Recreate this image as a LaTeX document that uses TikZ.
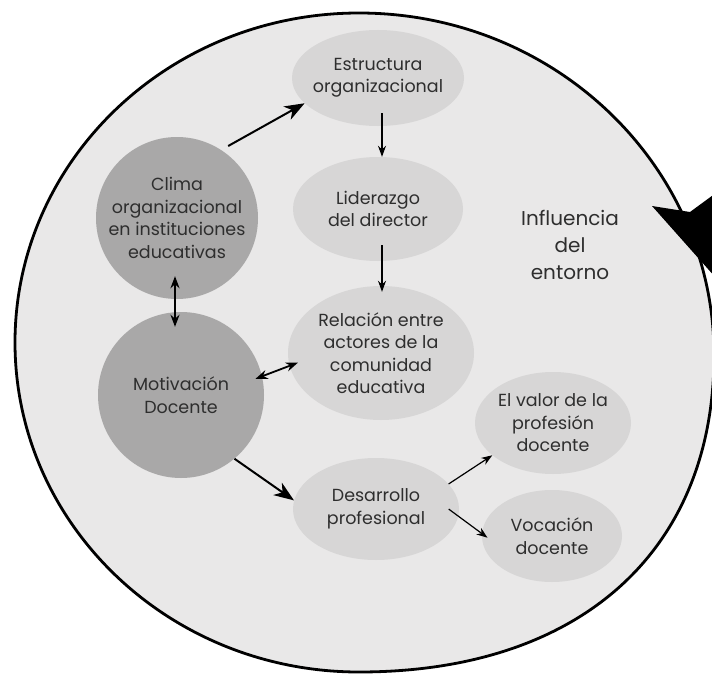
\documentclass[tikz,border=0pt]{standalone}
\usepackage{fontspec}
\setmainfont{Poppins}
\usetikzlibrary{shapes.geometric, arrows.meta, positioning}
\definecolor{fondo}{HTML}{E9E8E8}
\definecolor{grisclaro}{HTML}{D7D6D6}
\definecolor{grisoscuro}{HTML}{A9A8A8}
\definecolor{texto}{HTML}{2E2E2E}

\begin{document}
\begin{tikzpicture}[x=1pt, y=-1pt,
    tema/.style={ellipse, fill=grisclaro, inner sep=-12pt, font=\fontsize{17.5}{22.5}\selectfont, text=texto, align=center},
    nucleo/.style={circle, fill=grisoscuro, inner sep=-12pt, font=\fontsize{17.5}{22.5}\selectfont, text=texto, align=center},
    flecha/.style={draw, line width=1.2pt, -{Stealth[length=11pt, width=8pt]}},
    flechagrande/.style={draw, line width=2pt, -{Stealth[length=20pt, width=15pt, inset=6pt]}},
    doble/.style={draw, line width=1.8pt, {Stealth[length=12pt, width=9pt]}-{Stealth[length=12pt, width=9pt]}}
]
    \useasboundingbox (0,0) rectangle (712,677);
    \clip (0,0) rectangle (712,677);
    \fill[white] (0,0) rectangle (712,677);

    \draw[fill=fondo, line width=2.8pt] (359,13) .. controls (169,13) and (15,160.5) .. (15,342.5)
        .. controls (15,524.5) and (169,672) .. (359,672)
        .. controls (579,672) and (714,552) .. (714,355)
        .. controls (714,166) and (555,13) .. (359,13) -- cycle;
    \fill (652,206) -- (690,212) -- (735,179) -- (724,287) -- cycle;

    \node[tema, minimum width=172pt, minimum height=96pt] (estr) at (378,78) {Estructura\\organizacional};
    \node[nucleo, minimum size=162pt] (clima) at (177,218) {Clima\\organizacional\\en instituciones\\educativas};
    \node[tema, minimum width=170pt, minimum height=104pt] (lid) at (378,209) {Liderazgo\\del director};
    \node[tema, minimum width=186pt, minimum height=134pt] (rel) at (381,353) {Relación entre\\actores de la\\comunidad\\educativa};
    \node[nucleo, minimum size=166pt] (mot) at (181,395) {Motivación\\Docente};
    \node[tema, minimum width=156pt, minimum height=102pt] (valor) at (553,423) {El valor de la\\profesión\\docente};
    \node[tema, minimum width=166pt, minimum height=102pt] (des) at (376,509) {Desarrollo\\profesional};
    \node[tema, minimum width=140pt, minimum height=92pt] (voc) at (552,536) {Vocación\\docente};
    \node[font=\fontsize{20}{27}\selectfont, text=texto, align=center] (infl) at (570,245) {Influencia\\del\\entorno};

    \draw[flechagrande, shorten <=8pt] (clima.57) -- (estr.199);
    \draw[flecha, shorten <=-13pt] ([xshift=4pt]estr.south) -- ([xshift=4pt]lid.north);
    \draw[flecha, shorten <=-16pt, shorten >=-6pt] ([xshift=4pt]lid.south) -- ([xshift=1pt]rel.north);
    \draw[doble, shorten <=-23pt, shorten >=-15pt] ([xshift=-2pt]clima.south) -- ([xshift=-6pt]mot.north);
    \draw[doble, shorten <=-7pt, shorten >=-9pt] (mot.13) -- (rel.188);
    \draw[flechagrande] (mot.-50) -- (des.174);
    \draw[flecha] (des.19) -- (valor.208);
    \draw[flecha, shorten <=-12pt, shorten >=-7pt] (des.-5) -- (voc.178);
\end{tikzpicture}
\end{document}
